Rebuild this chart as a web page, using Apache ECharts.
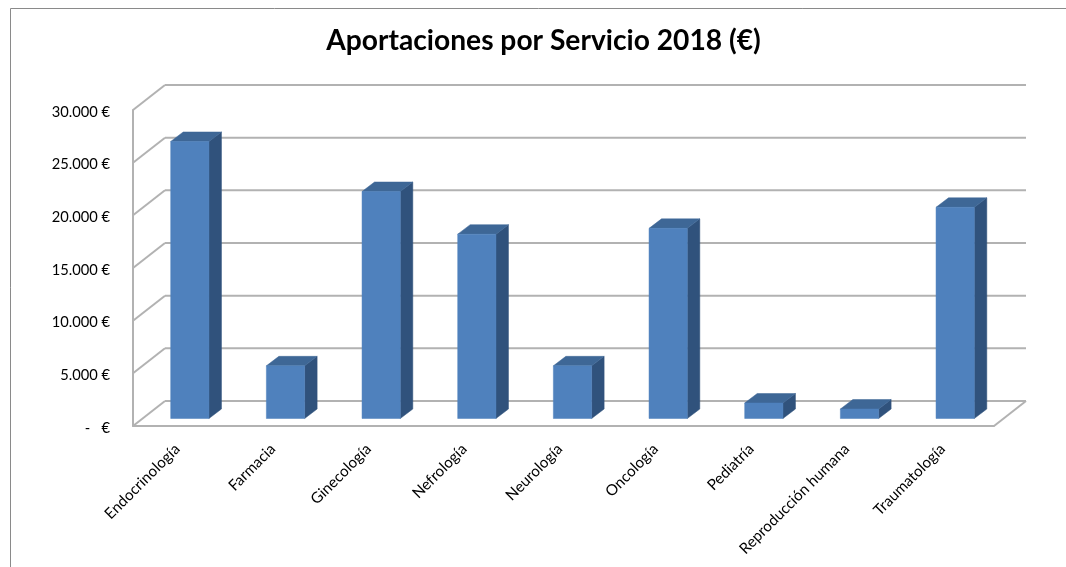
<!DOCTYPE html>
<html>
<head>
<meta charset="utf-8">
<style>html,body{margin:0;padding:0;background:#fff}#c{width:1066px;height:567px}</style>
<script src="https://cdn.jsdelivr.net/npm/echarts@6/dist/echarts.min.js"></script>
</head>
<body>
<div id="c"></div>
<script>
const chartTitle = 'Aportaciones por Servicio 2018 (€)';
const categories = ['Endocrinología','Farmacia','Ginecología','Nefrología','Neurología','Oncología','Pediatría','Reproducción humana','Traumatología'];
const values = [26300, 5000, 21550, 17500, 5000, 18050, 1470, 900, 20050];
const yTicks = [0, 5000, 10000, 15000, 20000, 25000, 30000];
const yTickLabels = ['-   €', '5.000 €', '10.000 €', '15.000 €', '20.000 €', '25.000 €', '30.000 €'];

const WALL_DX = 32, WALL_DY = 25;
const BAR_OFF_X = 9, BAR_OFF_Y = 7.5, BAR_DX = 12.5, BAR_DY = 9.5, BAR_RATIO = 0.4;
const GRID_COLOR = '#b2b2b2', FRONT = '#4f81bd', TOP = '#3e6796', SIDE = '#30527c';
const FONT = 'Lato';

function renderWall(params, api) {
  const tick = api.value(0);
  const left = api.coord([0, tick]);
  const band = api.size([1, 0])[0];
  const x0 = left[0] - band / 2, x1 = x0 + band * categories.length, y = left[1];
  const style = { stroke: GRID_COLOR, lineWidth: 2, fill: null };
  const line = (a, b, c, d) => ({ type: 'line', shape: { x1: a, y1: b, x2: c, y2: d }, style });
  const children = [
    line(x0, y, x0 + WALL_DX, y - WALL_DY),
    line(x0 + WALL_DX, y - WALL_DY, x1 + WALL_DX, y - WALL_DY)
  ];
  if (tick === 0) children.push(line(x1, y, x1 + WALL_DX, y - WALL_DY));
  return { type: 'group', children };
}

function renderBar(params, api) {
  const i = api.value(0), v = api.value(1);
  const base = api.coord([i, 0]), top = api.coord([i, v]);
  const w = api.size([1, 0])[0] * BAR_RATIO;
  const xl = base[0] - w / 2 + BAR_OFF_X, xr = xl + w;
  const yb = base[1] - BAR_OFF_Y, yt = top[1] - BAR_OFF_Y;
  const poly = (points, fill) => ({ type: 'polygon', shape: { points }, style: { fill, stroke: fill, lineWidth: 0.5 } });
  return { type: 'group', children: [
    poly([[xr, yb], [xr + BAR_DX, yb - BAR_DY], [xr + BAR_DX, yt - BAR_DY], [xr, yt]], SIDE),
    poly([[xl, yt], [xr, yt], [xr + BAR_DX, yt - BAR_DY], [xl + BAR_DX, yt - BAR_DY]], TOP),
    poly([[xl, yb], [xr, yb], [xr, yt], [xl, yt]], FRONT)
  ] };
}

const chart = echarts.init(document.getElementById('c'), null, { renderer: 'canvas' });
chart.setOption({
  animation: false,
  backgroundColor: '#fff',
  title: {
    text: chartTitle, left: 538.5, top: 22, textAlign: 'center',
    textStyle: { fontFamily: FONT, fontWeight: 'bold', fontSize: 28.2, color: '#000' }
  },
  grid: { left: 133, top: 110, width: 861, height: 316 },
  xAxis: {
    type: 'category', data: categories,
    axisTick: { show: false },
    axisLine: { lineStyle: { color: GRID_COLOR, width: 2 } },
    axisLabel: { rotate: 45, interval: 0, margin: 17, padding: [0, 5, 0, 0], color: '#000', fontFamily: FONT, fontSize: 15.2 },
    splitLine: { show: false }
  },
  yAxis: {
    type: 'value', min: 0, max: 30000, interval: 5000,
    axisTick: { show: false },
    axisLine: { show: true, lineStyle: { color: GRID_COLOR, width: 2 } },
    splitLine: { show: false },
    axisLabel: {
      margin: 23, color: '#000', fontFamily: FONT, fontSize: 14.7, verticalAlign: 'top', lineHeight: 4,
      formatter: v => yTickLabels[yTicks.indexOf(v)]
    }
  },
  graphic: [
    { type: 'line', silent: true, shape: { x1: 10.5, y1: 8.5, x2: 10.5, y2: 567 }, style: { stroke: '#8a8a8a', lineWidth: 1 } },
    { type: 'line', silent: true, shape: { x1: 10.5, y1: 8.5, x2: 1066, y2: 8.5 }, style: { stroke: '#8a8a8a', lineWidth: 1 } }
  ],
  series: [
    { type: 'custom', silent: true, z: 1, encode: { x: 1, y: 0 }, renderItem: renderWall,
      data: yTicks.map(t => [t, 0]) },
    { type: 'custom', silent: true, z: 3, encode: { x: 0, y: 1 }, renderItem: renderBar,
      data: values.map((v, i) => [i, v]) }
  ]
});
</script>
</body>
</html>
